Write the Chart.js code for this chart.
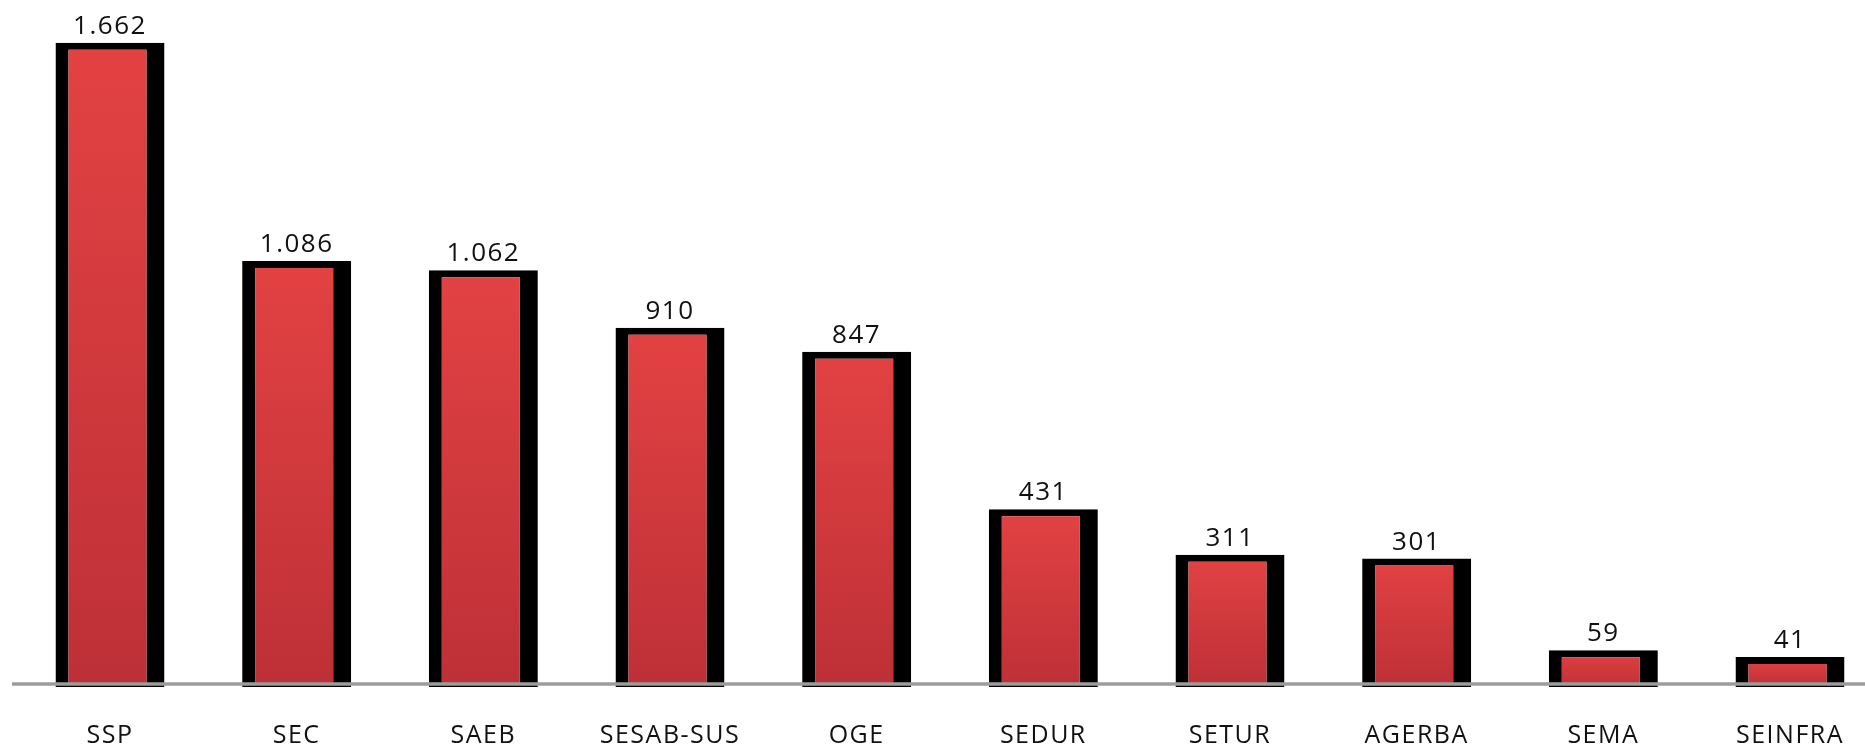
<!DOCTYPE html>
<html>
<head>
<meta charset="utf-8">
<script src="https://cdn.jsdelivr.net/npm/chart.js@4.4.1/dist/chart.umd.min.js"></script>
<style>
  html, body { margin: 0; padding: 0; background: #fff; }
  #wrap { width: 1865px; height: 746px; position: relative; }
</style>
</head>
<body>
<div id="wrap"><canvas id="grafico"></canvas></div>
<script>
// dados do gráfico
const categorias = ["SSP", "SEC", "SAEB", "SESAB-SUS", "OGE", "SEDUR", "SETUR", "AGERBA", "SEMA", "SEINFRA"];
const valores = [1662, 1086, 1062, 910, 847, 431, 311, 301, 59, 41];

const FONTE = "'Open Sans', 'DejaVu Sans', sans-serif";

// formata com ponto como separador de milhar (1.662)
function formatar(n) {
  return String(n).replace(/\B(?=(\d{3})+(?!\d))/g, ".");
}

// gradiente vermelho por barra, do topo para a base
function corBarra(ctx) {
  const chart = ctx.chart;
  if (!chart.chartArea || !ctx.parsed) return "#d83c3e";
  const y = chart.scales.y;
  const topo = y.getPixelForValue(ctx.parsed.y);
  const base = y.getPixelForValue(ctx.dataset.base);
  const g = chart.ctx.createLinearGradient(0, topo, 0, base);
  g.addColorStop(0, "#e34242");
  g.addColorStop(1, "#bd3037");
  return g;
}

// espaçamento entre letras, igual ao original
const espacamento = {
  id: "espacamento",
  beforeDraw(chart) {
    chart.ctx.letterSpacing = "1.5px";
  }
};

// linha cinza da base e rótulos de valor acima das barras
const extras = {
  id: "extras",
  afterDatasetsDraw(chart) {
    const { ctx, chartArea } = chart;
    ctx.save();
    ctx.strokeStyle = "#9b9d9b";
    ctx.lineWidth = 3.5;
    ctx.beginPath();
    ctx.moveTo(12, chartArea.bottom);
    ctx.lineTo(chart.width, chartArea.bottom);
    ctx.stroke();

    ctx.fillStyle = "#111";
    ctx.font = "26px " + FONTE;
    ctx.textAlign = "center";
    ctx.textBaseline = "alphabetic";
    chart.getDatasetMeta(0).data.forEach((bar, i) => {
      ctx.fillText(formatar(valores[i]), bar.x, bar.y - 9);
    });
    ctx.restore();
  }
};

new Chart(document.getElementById("grafico"), {
  type: "bar",
  data: {
    labels: categorias,
    datasets: [
      {
        data: valores,
        base: -38,
        backgroundColor: corBarra,
        borderColor: "#000",
        borderWidth: { left: 13, right: 18, top: 7, bottom: 2 },
        borderSkipped: false,
        categoryPercentage: 1,
        barPercentage: 0.584,
        clip: false,
      },
    ],
  },
  options: {
    responsive: true,
    maintainAspectRatio: false,
    animation: false,
    layout: { padding: { left: 110, right: 75, top: 0, bottom: 0 } },
    scales: {
      x: {
        offset: false,
        grid: { display: false, drawTicks: false },
        border: { display: false },
        ticks: {
          padding: 39,
          color: "#111",
          font: { family: FONTE, size: 25, lineHeight: 1 },
        },
        afterFit(scale) {
          scale.height = 62;
          scale.paddingLeft = 0;
          scale.paddingRight = 0;
        },
      },
      y: {
        display: false,
        min: -30,
        max: 1775,
      },
    },
    plugins: {
      legend: { display: false },
      tooltip: { enabled: false },
    },
  },
  plugins: [espacamento, extras],
});
</script>
</body>
</html>
